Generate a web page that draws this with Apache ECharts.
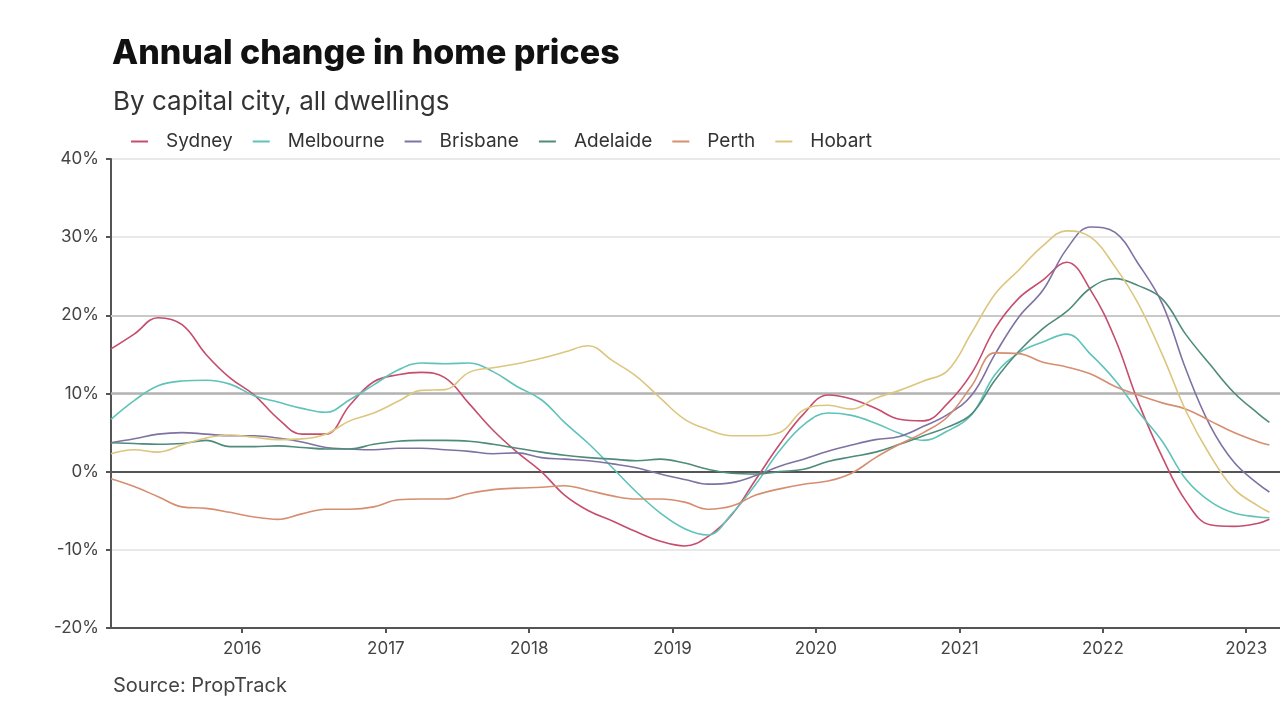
<!DOCTYPE html>
<html>
<head>
<meta charset="utf-8">
<script src="https://cdn.jsdelivr.net/npm/echarts@6/dist/echarts.min.js"></script>
<style>
html,body{margin:0;padding:0;background:#fff;}
#chart{width:1280px;height:720px;}
</style>
</head>
<body>
<div id="chart"></div>
<script>
const dates = [
 '2015-02-01','2015-04-01','2015-06-01','2015-08-01','2015-10-01','2015-12-01',
 '2016-02-01','2016-04-01','2016-06-01','2016-08-01','2016-10-01','2016-12-01',
 '2017-02-01','2017-04-01','2017-06-01','2017-08-01','2017-10-01','2017-12-01',
 '2018-02-01','2018-04-01','2018-06-01','2018-08-01','2018-10-01','2018-12-01',
 '2019-02-01','2019-04-01','2019-06-01','2019-08-01','2019-10-01','2019-12-01',
 '2020-02-01','2020-04-01','2020-06-01','2020-08-01','2020-10-01','2020-12-01',
 '2021-02-01','2021-04-01','2021-06-01','2021-08-01','2021-10-01','2021-12-01',
 '2022-02-01','2022-04-01','2022-06-01','2022-08-01','2022-10-01','2022-12-01',
 '2023-02-01','2023-03-01'
];

const sydney = [
 15.7,17.6,19.7,18.8,15.0,12.0,
 9.8,6.8,4.8,4.8,8.5,11.5,
 12.4,12.7,12.0,8.7,5.3,2.5,
 0.0,-3.0,-5.0,-6.3,-7.7,-8.9,
 -9.5,-8.3,-5.5,-1.0,3.5,7.4,
 9.8,9.3,8.1,6.7,6.5,8.7,
 12.6,18.3,22.2,24.5,26.8,23.2,
 17.0,8.9,1.9,-3.8,-6.8,-7.0,
 -6.6,-6.1
];
const melbourne = [
 6.7,9.1,11.0,11.6,11.7,11.2,
 9.7,8.9,8.1,7.6,9.2,11.1,
 13.0,13.9,13.8,13.9,12.8,10.9,
 9.2,6.3,3.6,0.5,-2.6,-5.3,
 -7.3,-8.1,-5.4,-1.6,2.7,6.0,
 7.5,7.2,6.2,4.9,4.0,5.2,
 7.3,12.4,15.2,16.6,17.6,15.0,
 11.7,7.7,3.9,-1.0,-3.8,-5.3,
 -5.8,-5.9
];
const brisbane = [
 3.7,4.2,4.8,5.0,4.8,4.6,
 4.6,4.3,3.8,3.1,2.9,2.8,
 3.0,3.0,2.8,2.6,2.3,2.4,
 1.8,1.6,1.4,1.0,0.5,-0.3,
 -1.0,-1.6,-1.4,-0.5,0.7,1.6,
 2.6,3.4,4.1,4.5,5.8,7.3,
 9.8,15.0,19.8,23.2,28.5,31.3,
 30.6,26.6,21.5,13.0,5.9,1.2,
 -1.6,-2.6
];
const adelaide = [
 3.7,3.6,3.5,3.6,4.0,3.2,
 3.2,3.3,3.1,2.9,2.9,3.5,
 3.9,4.0,4.0,3.9,3.5,3.0,
 2.5,2.1,1.8,1.6,1.4,1.6,
 1.1,0.3,-0.2,-0.3,0.0,0.3,
 1.3,1.9,2.5,3.5,4.6,5.7,
 7.4,11.7,15.4,18.3,20.5,23.5,
 24.7,23.8,22.1,17.5,13.7,10.1,
 7.4,6.3
];
const perth = [
 -0.9,-1.9,-3.2,-4.5,-4.7,-5.2,
 -5.8,-6.1,-5.4,-4.8,-4.8,-4.5,
 -3.6,-3.5,-3.5,-2.8,-2.3,-2.1,
 -2.0,-1.8,-2.4,-3.1,-3.5,-3.5,
 -3.9,-4.8,-4.4,-3.0,-2.2,-1.6,
 -1.2,-0.2,1.8,3.5,5.0,7.0,
 11.0,15.2,15.1,14.0,13.4,12.5,
 10.9,9.8,8.8,8.0,6.5,5.0,
 3.8,3.4
];
const hobart = [
 2.3,2.8,2.5,3.4,4.3,4.7,
 4.4,4.1,4.2,4.8,6.5,7.5,
 9.0,10.4,10.5,12.7,13.3,13.8,
 14.5,15.3,16.1,14.2,12.2,9.4,
 6.7,5.4,4.6,4.6,5.0,7.9,
 8.5,8.0,9.4,10.4,11.6,12.9,
 17.8,22.7,25.8,28.9,30.8,30.0,
 26.2,21.5,15.0,7.7,2.1,-2.2,
 -4.4,-5.2
];

const seriesNames = ['Sydney','Melbourne','Brisbane','Adelaide','Perth','Hobart'];
const seriesValues = [sydney, melbourne, brisbane, adelaide, perth, hobart];
const seriesColors = ['#c64d6c','#5fc3b9','#7f72a3','#4f8b7b','#d68e70','#dcc67e'];

const chart = echarts.init(document.getElementById('chart'));
const FONT = 'Inter, "Noto Sans", sans-serif';

const series = seriesNames.map((name, i) => {
  const s = {
    name: name,
    type: 'line',
    data: dates.map((d, j) => [d, seriesValues[i][j]]),
    showSymbol: false,
    smooth: 0.4,
    lineStyle: { color: seriesColors[i], width: 1.6 },
    itemStyle: { color: seriesColors[i] },
    emphasis: { disabled: true },
    z: 3
  };
  if (i === 0) {
    s.markLine = {
      silent: true,
      symbol: 'none',
      z: 1,
      label: { show: false },
      data: [
        { yAxis: 20, lineStyle: { color: '#c9c9c9', width: 2, type: 'solid' } },
        { yAxis: 10, lineStyle: { color: '#b3b3b3', width: 2.5, type: 'solid' } },
        { yAxis: 0, lineStyle: { color: '#555555', width: 2, type: 'solid' } }
      ]
    };
  }
  return s;
});

const YEAR = 365.25 * 24 * 3600 * 1000;

chart.setOption({
  animation: false,
  backgroundColor: '#ffffff',
  title: [
    { text: 'Annual change in home prices', left: 107, top: 32,
      textStyle: { fontFamily: FONT, fontSize: 34, fontWeight: 800, color: '#111' } },
    { text: 'By capital city, all dwellings', left: 108, top: 84,
      textStyle: { fontFamily: FONT, fontSize: 26, fontWeight: 'normal', color: '#333' } },
    { text: 'Source: PropTrack', left: 108, top: 671,
      textStyle: { fontFamily: FONT, fontSize: 20, fontWeight: 'normal', color: '#444' } }
  ],
  legend: {
    data: seriesNames,
    left: 126,
    top: 127,
    icon: 'rect',
    itemWidth: 17,
    itemHeight: 2,
    itemGap: 20,
    textStyle: { fontFamily: FONT, fontSize: 19, color: '#333', padding: [0, 0, 0, 13] }
  },
  grid: { left: 111, right: 0, top: 159, bottom: 92, containLabel: false },
  xAxis: {
    type: 'time',
    min: '2015-02-01',
    max: '2023-03-28',
    minInterval: YEAR,
    maxInterval: YEAR,
    axisLine: { show: true, onZero: false, lineStyle: { color: '#555', width: 2 } },
    axisTick: { show: true, length: 5, lineStyle: { color: '#555', width: 2 } },
    splitLine: { show: false },
    axisLabel: {
      fontFamily: FONT, fontSize: 17, color: '#444', margin: 12,
      formatter: function (v) { return String(new Date(v).getFullYear()); }
    }
  },
  yAxis: {
    type: 'value',
    min: -20,
    max: 40,
    interval: 10,
    axisLine: { show: true, lineStyle: { color: '#555', width: 2 } },
    axisTick: { show: true, length: 5, lineStyle: { color: '#555', width: 2 } },
    splitLine: { show: true, lineStyle: { color: '#e2e2e2', width: 1.5 } },
    axisLabel: { fontFamily: FONT, fontSize: 17, color: '#444', margin: 12, formatter: '{value}%' }
  },
  series: series
});
</script>
</body>
</html>
